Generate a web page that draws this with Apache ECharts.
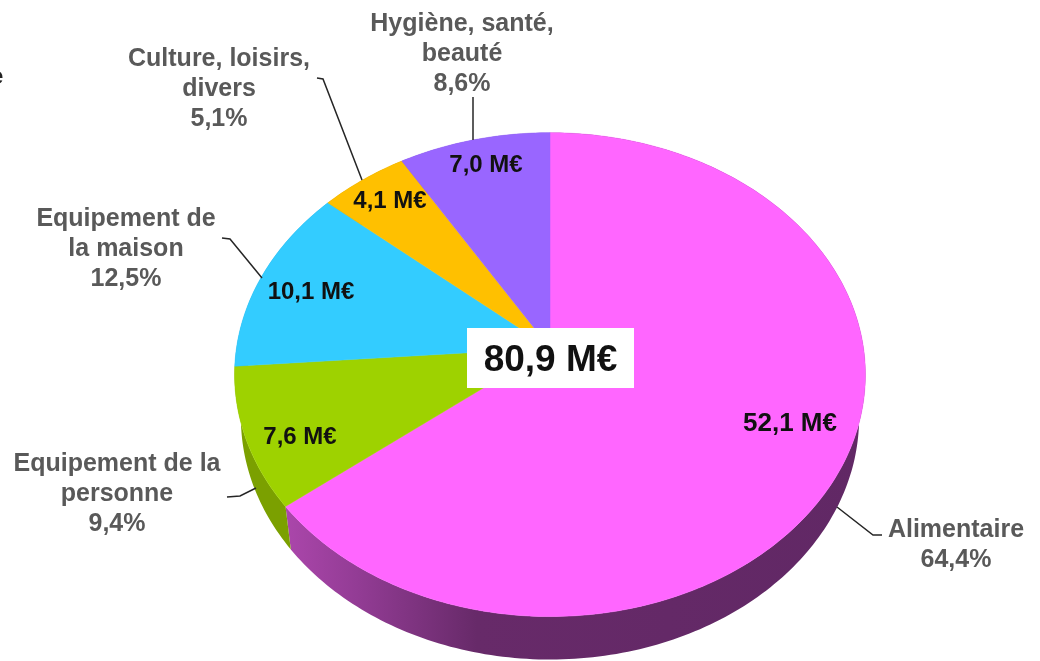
<!DOCTYPE html>
<html>
<head>
<meta charset="utf-8">
<script src="https://cdn.jsdelivr.net/npm/echarts@6/dist/echarts.min.js"></script>
<style>
  html, body { margin: 0; padding: 0; background: #fff; }
  #main { width: 1040px; height: 661px; }
</style>
</head>
<body>
<div id="main"></div>
<script>
const categories = ["Alimentaire", "Equipement de la\npersonne", "Equipement de\nla maison", "Culture, loisirs,\ndivers", "Hygiène, santé,\nbeauté"];
const amounts = [52.1, 7.6, 10.1, 4.1, 7.0];
const shares = [64.4, 9.4, 12.5, 5.1, 8.6];
const totalLabel = "80,9 M€";

const colors = ["#ff66ff", "#9ed200", "#33ccff", "#ffc000", "#9966ff"];
const fmt = (v) => v.toFixed(1).replace(".", ",");

// the pie is a circle seen in perspective, k tilts it
const cx = 550, cy = 348, rx = 313.5, ry = 239, k = 0.11;
const depth = 43, bottomScale = 0.98;

function edgePoint(deg) {
  const t = (deg * Math.PI) / 180;
  const u = Math.sin(t), v = -Math.cos(t);
  const w = 1 - k * v;
  return [cx + (rx * u) / w, cy + (ry * v) / w];
}
function lowerPoint(deg) {
  const p = edgePoint(deg);
  return [cx + (p[0] - cx) * bottomScale, p[1] + depth];
}
function arc(fn, from, to) {
  const pts = [];
  const n = Math.max(2, Math.ceil(to - from));
  for (let i = 0; i <= n; i++) pts.push(fn(from + ((to - from) * i) / n));
  return pts;
}

const sum = amounts.reduce((a, b) => a + b, 0);
const starts = [];
amounts.reduce((acc, v, i) => {
  starts[i] = (acc / sum) * 360;
  return acc + v;
}, 0);

const wallFill = [
  new echarts.graphic.LinearGradient(288, 0, 860, 0, [
    { offset: 0, color: "#aa46aa" },
    { offset: 0.12, color: "#933c95" },
    { offset: 0.33, color: "#672a69" },
    { offset: 1, color: "#612865" },
  ], true),
  "#7ba000", "#2299cc", "#bb8c00", "#6f48c0",
];

// text position of each amount, and of each outer label with its leader line
const amountPos = [[790, 424], [300, 437], [311, 292], [390, 201], [486, 165]];
const amountSize = [26, 24, 24, 24, 24];
const labelPos = [[956, 545], [117, 494], [126, 249], [219, 89], [462, 54]];
const leaders = [
  [[837, 507], [873, 535], [882, 535]],
  [[227, 497], [240, 496], [256, 488]],
  [[222, 238], [230, 239], [262, 278]],
  [[317, 78], [323, 79], [362, 180]],
  [[473, 97], [473, 140]],
];

const myChart = echarts.init(document.getElementById("main"), null, { renderer: "canvas" });
const font = "'Liberation Sans', Arial, sans-serif";

myChart.setOption({
  backgroundColor: "#fff",
  animation: false,
  series: [
    {
      type: "custom",
      coordinateSystem: "none",
      silent: true,
      z: 1,
      data: amounts.map((v, i) => [i, v]),
      renderItem(params, api) {
        const i = api.value(0);
        const from = starts[i];
        const to = from + (api.value(1) / sum) * 360;
        const pts = arc(edgePoint, from, to).concat(arc(lowerPoint, from, to).reverse());
        return { type: "polygon", shape: { points: pts }, style: { fill: wallFill[i] } };
      },
    },
    {
      type: "custom",
      coordinateSystem: "none",
      silent: true,
      z: 2,
      data: amounts.map((v, i) => [i, v]),
      renderItem(params, api) {
        const i = api.value(0);
        const from = starts[i];
        const to = from + (api.value(1) / sum) * 360;
        return {
          type: "group",
          children: [
            {
              type: "polygon",
              shape: { points: [[cx, cy]].concat(arc(edgePoint, from, to)) },
              style: { fill: colors[i], stroke: colors[i], lineWidth: 0.5 },
            },
            {
              type: "text",
              z2: 5,
              style: {
                x: amountPos[i][0],
                y: amountPos[i][1],
                text: fmt(api.value(1)) + " M€",
                fill: "#111",
                font: "bold " + amountSize[i] + "px " + font,
                align: "center",
                verticalAlign: "middle",
              },
            },
          ],
        };
      },
    },
  ],
  graphic: {
    elements: [
      {
        type: "rect",
        z: 10,
        shape: { x: 467, y: 328, width: 167, height: 60 },
        style: { fill: "#fff" },
      },
      {
        type: "text",
        z: 11,
        style: {
          x: 550.5,
          y: 361,
          text: totalLabel,
          fill: "#111",
          font: "bold 37px " + font,
          align: "center",
          verticalAlign: "middle",
        },
      },
      {
        type: "text",
        z: 11,
        style: {
          x: -10,
          y: 77,
          text: "e",
          fill: "#222",
          font: "bold 24px " + font,
          verticalAlign: "middle",
        },
      },
    ]
      .concat(
        leaders.map((pts) => ({
          type: "polyline",
          z: 11,
          shape: { points: pts },
          style: { stroke: "#262626", lineWidth: 1.5, fill: null },
        }))
      )
      .concat(
        categories.map((name, i) => ({
          type: "text",
          z: 11,
          style: {
            x: labelPos[i][0],
            y: labelPos[i][1],
            text: name + "\n" + fmt(shares[i]) + "%",
            fill: "#595959",
            font: "bold 25px " + font,
            lineHeight: 30,
            align: "center",
            verticalAlign: "middle",
          },
        }))
      ),
  },
});
</script>
</body>
</html>
